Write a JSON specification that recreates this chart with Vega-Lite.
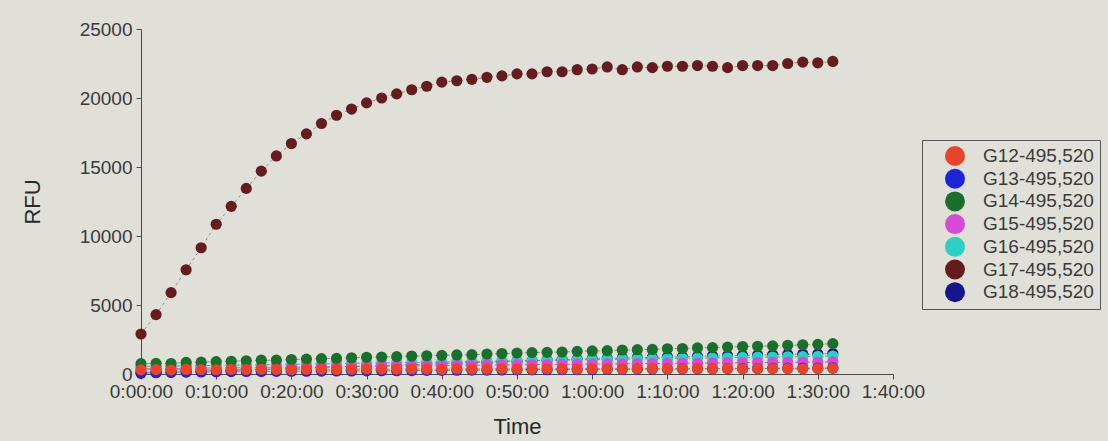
{
"$schema": "https://vega.github.io/schema/vega-lite/v6.json",
"width": 752, "height": 345,
"autosize": {"type": "none"},
"padding": {"left": 141, "top": 29, "right": 215, "bottom": 67},
"background": "#e0e0d9",
"config": {"view": {"stroke": null}, "font": "Liberation Sans",
 "axis": {"grid": false, "domainColor": "#4a4a4a", "tickColor": "#4a4a4a", "labelColor": "#3a3a3a", "titleColor": "#2a2a2a", "labelFontSize": 19, "titleFontSize": 22, "titleFontWeight": "normal", "tickSize": 5}},
"datasets": {"d": [
{"t":0,"s":"G18-495,520","v":50},{"t":2,"s":"G18-495,520","v":90},{"t":4,"s":"G18-495,520","v":120},{"t":6,"s":"G18-495,520","v":160},{"t":8,"s":"G18-495,520","v":190},{"t":10,"s":"G18-495,520","v":230},{"t":12,"s":"G18-495,520","v":260},{"t":14,"s":"G18-495,520","v":300},{"t":16,"s":"G18-495,520","v":330},{"t":18,"s":"G18-495,520","v":370},{"t":20,"s":"G18-495,520","v":400},{"t":22,"s":"G18-495,520","v":440},{"t":24,"s":"G18-495,520","v":470},{"t":26,"s":"G18-495,520","v":510},{"t":28,"s":"G18-495,520","v":540},{"t":30,"s":"G18-495,520","v":580},{"t":32,"s":"G18-495,520","v":610},{"t":34,"s":"G18-495,520","v":650},{"t":36,"s":"G18-495,520","v":680},{"t":38,"s":"G18-495,520","v":720},{"t":40,"s":"G18-495,520","v":750},{"t":42,"s":"G18-495,520","v":790},{"t":44,"s":"G18-495,520","v":820},{"t":46,"s":"G18-495,520","v":860},{"t":48,"s":"G18-495,520","v":890},{"t":50,"s":"G18-495,520","v":930},{"t":52,"s":"G18-495,520","v":960},{"t":54,"s":"G18-495,520","v":1000},{"t":56,"s":"G18-495,520","v":1030},{"t":58,"s":"G18-495,520","v":1070},{"t":60,"s":"G18-495,520","v":1100},{"t":62,"s":"G18-495,520","v":1130},{"t":64,"s":"G18-495,520","v":1150},{"t":66,"s":"G18-495,520","v":1180},{"t":68,"s":"G18-495,520","v":1200},{"t":70,"s":"G18-495,520","v":1230},{"t":72,"s":"G18-495,520","v":1250},{"t":74,"s":"G18-495,520","v":1280},{"t":76,"s":"G18-495,520","v":1300},{"t":78,"s":"G18-495,520","v":1330},{"t":80,"s":"G18-495,520","v":1350},{"t":82,"s":"G18-495,520","v":1380},{"t":84,"s":"G18-495,520","v":1400},{"t":86,"s":"G18-495,520","v":1420},{"t":88,"s":"G18-495,520","v":1440},{"t":90,"s":"G18-495,520","v":1460},{"t":92,"s":"G18-495,520","v":1480},
{"t":0,"s":"G17-495,520","v":2900},{"t":2,"s":"G17-495,520","v":4300},{"t":4,"s":"G17-495,520","v":5900},{"t":6,"s":"G17-495,520","v":7550},{"t":8,"s":"G17-495,520","v":9150},{"t":10,"s":"G17-495,520","v":10850},{"t":12,"s":"G17-495,520","v":12150},{"t":14,"s":"G17-495,520","v":13450},{"t":16,"s":"G17-495,520","v":14700},{"t":18,"s":"G17-495,520","v":15800},{"t":20,"s":"G17-495,520","v":16700},{"t":22,"s":"G17-495,520","v":17400},{"t":24,"s":"G17-495,520","v":18150},{"t":26,"s":"G17-495,520","v":18750},{"t":28,"s":"G17-495,520","v":19200},{"t":30,"s":"G17-495,520","v":19650},{"t":32,"s":"G17-495,520","v":20000},{"t":34,"s":"G17-495,520","v":20300},{"t":36,"s":"G17-495,520","v":20600},{"t":38,"s":"G17-495,520","v":20850},{"t":40,"s":"G17-495,520","v":21150},{"t":42,"s":"G17-495,520","v":21250},{"t":44,"s":"G17-495,520","v":21350},{"t":46,"s":"G17-495,520","v":21500},{"t":48,"s":"G17-495,520","v":21600},{"t":50,"s":"G17-495,520","v":21750},{"t":52,"s":"G17-495,520","v":21750},{"t":54,"s":"G17-495,520","v":21900},{"t":56,"s":"G17-495,520","v":21900},{"t":58,"s":"G17-495,520","v":22050},{"t":60,"s":"G17-495,520","v":22100},{"t":62,"s":"G17-495,520","v":22250},{"t":64,"s":"G17-495,520","v":22050},{"t":66,"s":"G17-495,520","v":22250},{"t":68,"s":"G17-495,520","v":22200},{"t":70,"s":"G17-495,520","v":22300},{"t":72,"s":"G17-495,520","v":22300},{"t":74,"s":"G17-495,520","v":22350},{"t":76,"s":"G17-495,520","v":22300},{"t":78,"s":"G17-495,520","v":22200},{"t":80,"s":"G17-495,520","v":22350},{"t":82,"s":"G17-495,520","v":22350},{"t":84,"s":"G17-495,520","v":22350},{"t":86,"s":"G17-495,520","v":22500},{"t":88,"s":"G17-495,520","v":22600},{"t":90,"s":"G17-495,520","v":22550},{"t":92,"s":"G17-495,520","v":22650},
{"t":0,"s":"G16-495,520","v":550},{"t":2,"s":"G16-495,520","v":560},{"t":4,"s":"G16-495,520","v":560},{"t":6,"s":"G16-495,520","v":600},{"t":8,"s":"G16-495,520","v":610},{"t":10,"s":"G16-495,520","v":620},{"t":12,"s":"G16-495,520","v":640},{"t":14,"s":"G16-495,520","v":650},{"t":16,"s":"G16-495,520","v":670},{"t":18,"s":"G16-495,520","v":680},{"t":20,"s":"G16-495,520","v":700},{"t":22,"s":"G16-495,520","v":720},{"t":24,"s":"G16-495,520","v":730},{"t":26,"s":"G16-495,520","v":750},{"t":28,"s":"G16-495,520","v":770},{"t":30,"s":"G16-495,520","v":790},{"t":32,"s":"G16-495,520","v":800},{"t":34,"s":"G16-495,520","v":820},{"t":36,"s":"G16-495,520","v":840},{"t":38,"s":"G16-495,520","v":850},{"t":40,"s":"G16-495,520","v":870},{"t":42,"s":"G16-495,520","v":890},{"t":44,"s":"G16-495,520","v":900},{"t":46,"s":"G16-495,520","v":920},{"t":48,"s":"G16-495,520","v":940},{"t":50,"s":"G16-495,520","v":960},{"t":52,"s":"G16-495,520","v":970},{"t":54,"s":"G16-495,520","v":990},{"t":56,"s":"G16-495,520","v":1000},{"t":58,"s":"G16-495,520","v":1020},{"t":60,"s":"G16-495,520","v":1040},{"t":62,"s":"G16-495,520","v":1050},{"t":64,"s":"G16-495,520","v":1070},{"t":66,"s":"G16-495,520","v":1090},{"t":68,"s":"G16-495,520","v":1100},{"t":70,"s":"G16-495,520","v":1120},{"t":72,"s":"G16-495,520","v":1140},{"t":74,"s":"G16-495,520","v":1150},{"t":76,"s":"G16-495,520","v":1170},{"t":78,"s":"G16-495,520","v":1180},{"t":80,"s":"G16-495,520","v":1200},{"t":82,"s":"G16-495,520","v":1220},{"t":84,"s":"G16-495,520","v":1230},{"t":86,"s":"G16-495,520","v":1250},{"t":88,"s":"G16-495,520","v":1260},{"t":90,"s":"G16-495,520","v":1280},{"t":92,"s":"G16-495,520","v":1300},
{"t":0,"s":"G15-495,520","v":380},{"t":2,"s":"G15-495,520","v":400},{"t":4,"s":"G15-495,520","v":390},{"t":6,"s":"G15-495,520","v":420},{"t":8,"s":"G15-495,520","v":430},{"t":10,"s":"G15-495,520","v":440},{"t":12,"s":"G15-495,520","v":450},{"t":14,"s":"G15-495,520","v":460},{"t":16,"s":"G15-495,520","v":480},{"t":18,"s":"G15-495,520","v":490},{"t":20,"s":"G15-495,520","v":500},{"t":22,"s":"G15-495,520","v":510},{"t":24,"s":"G15-495,520","v":520},{"t":26,"s":"G15-495,520","v":530},{"t":28,"s":"G15-495,520","v":550},{"t":30,"s":"G15-495,520","v":560},{"t":32,"s":"G15-495,520","v":570},{"t":34,"s":"G15-495,520","v":580},{"t":36,"s":"G15-495,520","v":590},{"t":38,"s":"G15-495,520","v":600},{"t":40,"s":"G15-495,520","v":610},{"t":42,"s":"G15-495,520","v":620},{"t":44,"s":"G15-495,520","v":630},{"t":46,"s":"G15-495,520","v":650},{"t":48,"s":"G15-495,520","v":660},{"t":50,"s":"G15-495,520","v":670},{"t":52,"s":"G15-495,520","v":680},{"t":54,"s":"G15-495,520","v":690},{"t":56,"s":"G15-495,520","v":700},{"t":58,"s":"G15-495,520","v":710},{"t":60,"s":"G15-495,520","v":720},{"t":62,"s":"G15-495,520","v":730},{"t":64,"s":"G15-495,520","v":740},{"t":66,"s":"G15-495,520","v":750},{"t":68,"s":"G15-495,520","v":760},{"t":70,"s":"G15-495,520","v":770},{"t":72,"s":"G15-495,520","v":780},{"t":74,"s":"G15-495,520","v":790},{"t":76,"s":"G15-495,520","v":800},{"t":78,"s":"G15-495,520","v":810},{"t":80,"s":"G15-495,520","v":820},{"t":82,"s":"G15-495,520","v":830},{"t":84,"s":"G15-495,520","v":840},{"t":86,"s":"G15-495,520","v":850},{"t":88,"s":"G15-495,520","v":860},{"t":90,"s":"G15-495,520","v":870},{"t":92,"s":"G15-495,520","v":880},
{"t":0,"s":"G14-495,520","v":750},{"t":2,"s":"G14-495,520","v":770},{"t":4,"s":"G14-495,520","v":760},{"t":6,"s":"G14-495,520","v":840},{"t":8,"s":"G14-495,520","v":860},{"t":10,"s":"G14-495,520","v":900},{"t":12,"s":"G14-495,520","v":920},{"t":14,"s":"G14-495,520","v":960},{"t":16,"s":"G14-495,520","v":1000},{"t":18,"s":"G14-495,520","v":1000},{"t":20,"s":"G14-495,520","v":1050},{"t":22,"s":"G14-495,520","v":1080},{"t":24,"s":"G14-495,520","v":1110},{"t":26,"s":"G14-495,520","v":1130},{"t":28,"s":"G14-495,520","v":1180},{"t":30,"s":"G14-495,520","v":1210},{"t":32,"s":"G14-495,520","v":1230},{"t":34,"s":"G14-495,520","v":1260},{"t":36,"s":"G14-495,520","v":1300},{"t":38,"s":"G14-495,520","v":1320},{"t":40,"s":"G14-495,520","v":1350},{"t":42,"s":"G14-495,520","v":1380},{"t":44,"s":"G14-495,520","v":1400},{"t":46,"s":"G14-495,520","v":1450},{"t":48,"s":"G14-495,520","v":1480},{"t":50,"s":"G14-495,520","v":1520},{"t":52,"s":"G14-495,520","v":1550},{"t":54,"s":"G14-495,520","v":1570},{"t":56,"s":"G14-495,520","v":1590},{"t":58,"s":"G14-495,520","v":1640},{"t":60,"s":"G14-495,520","v":1670},{"t":62,"s":"G14-495,520","v":1690},{"t":64,"s":"G14-495,520","v":1740},{"t":66,"s":"G14-495,520","v":1760},{"t":68,"s":"G14-495,520","v":1780},{"t":70,"s":"G14-495,520","v":1830},{"t":72,"s":"G14-495,520","v":1850},{"t":74,"s":"G14-495,520","v":1890},{"t":76,"s":"G14-495,520","v":1910},{"t":78,"s":"G14-495,520","v":1950},{"t":80,"s":"G14-495,520","v":1990},{"t":82,"s":"G14-495,520","v":2010},{"t":84,"s":"G14-495,520","v":2040},{"t":86,"s":"G14-495,520","v":2080},{"t":88,"s":"G14-495,520","v":2120},{"t":90,"s":"G14-495,520","v":2150},{"t":92,"s":"G14-495,520","v":2200},
{"t":0,"s":"G13-495,520","v":120},{"t":2,"s":"G13-495,520","v":130},{"t":4,"s":"G13-495,520","v":140},{"t":6,"s":"G13-495,520","v":150},{"t":8,"s":"G13-495,520","v":150},{"t":10,"s":"G13-495,520","v":160},{"t":12,"s":"G13-495,520","v":170},{"t":14,"s":"G13-495,520","v":180},{"t":16,"s":"G13-495,520","v":180},{"t":18,"s":"G13-495,520","v":190},{"t":20,"s":"G13-495,520","v":200},{"t":22,"s":"G13-495,520","v":200},{"t":24,"s":"G13-495,520","v":210},{"t":26,"s":"G13-495,520","v":220},{"t":28,"s":"G13-495,520","v":220},{"t":30,"s":"G13-495,520","v":230},{"t":32,"s":"G13-495,520","v":240},{"t":34,"s":"G13-495,520","v":240},{"t":36,"s":"G13-495,520","v":250},{"t":38,"s":"G13-495,520","v":260},{"t":40,"s":"G13-495,520","v":260},{"t":42,"s":"G13-495,520","v":270},{"t":44,"s":"G13-495,520","v":280},{"t":46,"s":"G13-495,520","v":280},{"t":48,"s":"G13-495,520","v":290},{"t":50,"s":"G13-495,520","v":300},{"t":52,"s":"G13-495,520","v":300},{"t":54,"s":"G13-495,520","v":310},{"t":56,"s":"G13-495,520","v":320},{"t":58,"s":"G13-495,520","v":320},{"t":60,"s":"G13-495,520","v":330},{"t":62,"s":"G13-495,520","v":340},{"t":64,"s":"G13-495,520","v":340},{"t":66,"s":"G13-495,520","v":350},{"t":68,"s":"G13-495,520","v":360},{"t":70,"s":"G13-495,520","v":360},{"t":72,"s":"G13-495,520","v":370},{"t":74,"s":"G13-495,520","v":380},{"t":76,"s":"G13-495,520","v":380},{"t":78,"s":"G13-495,520","v":390},{"t":80,"s":"G13-495,520","v":400},{"t":82,"s":"G13-495,520","v":400},{"t":84,"s":"G13-495,520","v":410},{"t":86,"s":"G13-495,520","v":420},{"t":88,"s":"G13-495,520","v":420},{"t":90,"s":"G13-495,520","v":430},{"t":92,"s":"G13-495,520","v":440},
{"t":0,"s":"G12-495,520","v":300},{"t":2,"s":"G12-495,520","v":320},{"t":4,"s":"G12-495,520","v":290},{"t":6,"s":"G12-495,520","v":330},{"t":8,"s":"G12-495,520","v":320},{"t":10,"s":"G12-495,520","v":310},{"t":12,"s":"G12-495,520","v":330},{"t":14,"s":"G12-495,520","v":320},{"t":16,"s":"G12-495,520","v":340},{"t":18,"s":"G12-495,520","v":330},{"t":20,"s":"G12-495,520","v":310},{"t":22,"s":"G12-495,520","v":340},{"t":24,"s":"G12-495,520","v":350},{"t":26,"s":"G12-495,520","v":330},{"t":28,"s":"G12-495,520","v":340},{"t":30,"s":"G12-495,520","v":360},{"t":32,"s":"G12-495,520","v":350},{"t":34,"s":"G12-495,520","v":340},{"t":36,"s":"G12-495,520","v":360},{"t":38,"s":"G12-495,520","v":350},{"t":40,"s":"G12-495,520","v":340},{"t":42,"s":"G12-495,520","v":370},{"t":44,"s":"G12-495,520","v":360},{"t":46,"s":"G12-495,520","v":350},{"t":48,"s":"G12-495,520","v":370},{"t":50,"s":"G12-495,520","v":360},{"t":52,"s":"G12-495,520","v":350},{"t":54,"s":"G12-495,520","v":380},{"t":56,"s":"G12-495,520","v":370},{"t":58,"s":"G12-495,520","v":360},{"t":60,"s":"G12-495,520","v":380},{"t":62,"s":"G12-495,520","v":370},{"t":64,"s":"G12-495,520","v":360},{"t":66,"s":"G12-495,520","v":380},{"t":68,"s":"G12-495,520","v":390},{"t":70,"s":"G12-495,520","v":370},{"t":72,"s":"G12-495,520","v":380},{"t":74,"s":"G12-495,520","v":390},{"t":76,"s":"G12-495,520","v":380},{"t":78,"s":"G12-495,520","v":400},{"t":80,"s":"G12-495,520","v":380},{"t":82,"s":"G12-495,520","v":390},{"t":84,"s":"G12-495,520","v":400},{"t":86,"s":"G12-495,520","v":390},{"t":88,"s":"G12-495,520","v":380},{"t":90,"s":"G12-495,520","v":400},{"t":92,"s":"G12-495,520","v":410}
]},
"data": {"name": "d"},
"encoding": {
 "x": {"field": "t", "type": "quantitative", "title": "Time",
  "scale": {"domain": [0, 100], "nice": false},
  "axis": {"values": [0,10,20,30,40,50,60,70,80,90,100], "labelExpr": "floor(datum.value/60) + ':' + (datum.value % 60 < 10 ? '0' : '') + (datum.value % 60) + ':00'", "labelPadding": 3, "titlePadding": 15, "labelFlush": false, "labelOverlap": false}},
 "y": {"field": "v", "type": "quantitative", "title": "RFU",
  "scale": {"domain": [0, 25000], "nice": false},
  "axis": {"values": [0,5000,10000,15000,20000,25000], "format": "d", "labelPadding": 4, "titlePadding": 35}}
},
"layer": [
 {"mark": {"type": "line", "strokeWidth": 1, "strokeDash": [3, 3], "color": "#77776f", "opacity": 0.8},
  "encoding": {"detail": {"field": "s"}, "order": {"field": "t"}}},
 {"mark": {"type": "point", "filled": true, "size": 125, "opacity": 1, "strokeWidth": 0},
  "encoding": {"color": {"field": "s", "type": "nominal",
   "scale": {"domain": ["G12-495,520","G13-495,520","G14-495,520","G15-495,520","G16-495,520","G17-495,520","G18-495,520"],
             "range": ["#e8432c","#1c24d6","#1b6f2c","#d64ad4","#2ccfc2","#651c1e","#16168a"]},
   "legend": {"title": null, "orient": "none", "legendX": 781, "legendY": 111, "strokeColor": "#555555", "fillColor": "#e0e0d9", "padding": 6, "symbolType": "circle", "symbolSize": 400, "symbolStrokeWidth": 0, "symbolOffset": 17, "labelOffset": 18, "labelFontSize": 19, "labelColor": "#3a3a3a", "rowPadding": 2.7, "labelLimit": 300}}}}
]
}
